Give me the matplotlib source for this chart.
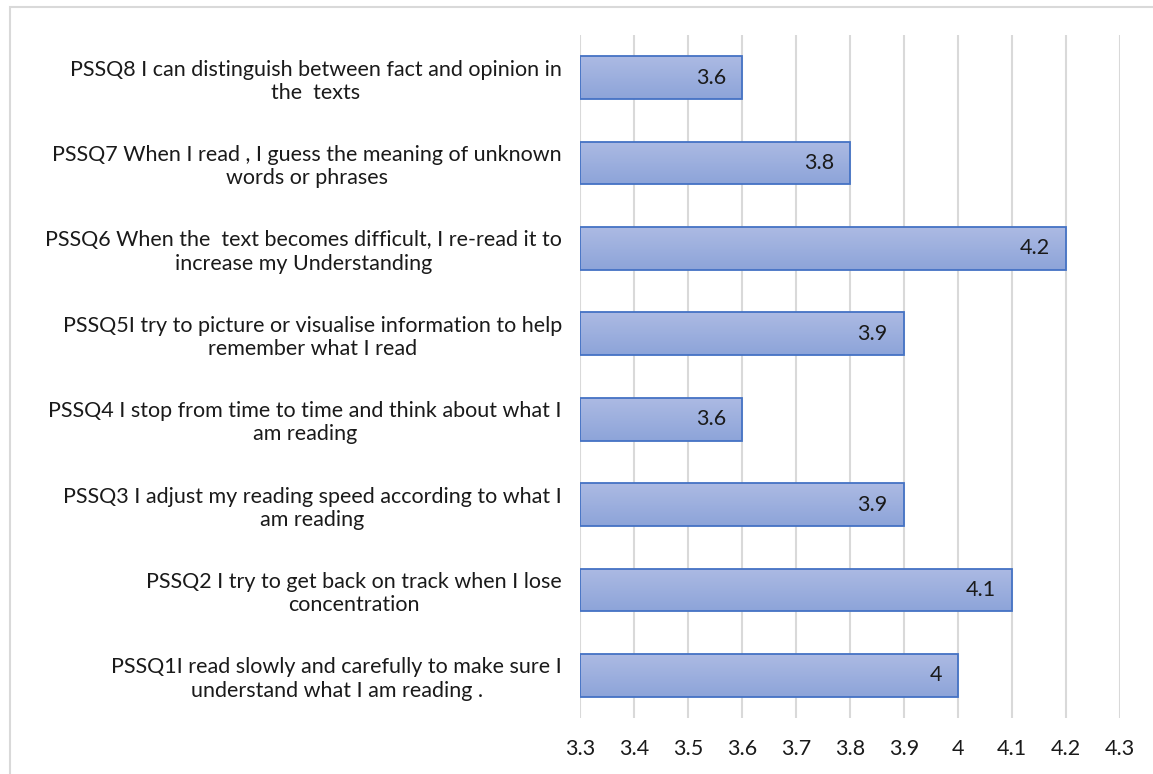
import numpy as np
import matplotlib
matplotlib.use('Agg')
import matplotlib.pyplot as plt
from matplotlib.patches import Rectangle
from matplotlib.colors import LinearSegmentedColormap

plt.rcParams['font.family'] = ['Lato', 'DejaVu Sans']

# ---- data (bottom to top) ----
questions = [
    "PSSQ1I read slowly and carefully to make sure I\nunderstand what I am reading .",
    "PSSQ2 I try to get back on track when I lose\nconcentration",
    "PSSQ3 I adjust my reading speed according to what I\nam reading",
    "PSSQ4 I stop from time to time and think about what I\nam reading",
    "PSSQ5I try to picture or visualise information to help\nremember what I read",
    "PSSQ6 When the  text becomes difficult, I re-read it to\nincrease my Understanding",
    "PSSQ7 When I read , I guess the meaning of unknown\nwords or phrases",
    "PSSQ8 I can distinguish between fact and opinion in\nthe  texts",
]
means = [4, 4.1, 3.9, 3.6, 3.9, 4.2, 3.8, 3.6]
x_ticks = [3.3, 3.4, 3.5, 3.6, 3.7, 3.8, 3.9, 4.0, 4.1, 4.2, 4.3]
x_tick_labels = ["3.3", "3.4", "3.5", "3.6", "3.7", "3.8", "3.9", "4", "4.1", "4.2", "4.3"]
base = 3.3

fig = plt.figure(figsize=(11.53, 7.74), dpi=100)
ax = fig.add_axes([580 / 1153, 1 - 718 / 774, (1120 - 580) / 1153, (718 - 35) / 774])

# chart border (cut by the image edges)
fig.patches.append(Rectangle((9.5 / 1153, -0.1), 1.2, 1.1 - 6.5 / 774,
                             transform=fig.transFigure, fill=False,
                             edgecolor='#d9d9d9', linewidth=1.5, zorder=0))

ypos = np.arange(len(means))
bars = ax.barh(ypos, [m - base for m in means], left=base, height=0.5,
               color='none', edgecolor='#4472c4', linewidth=1.3, zorder=3)

cmap = LinearSegmentedColormap.from_list('bar', ['#8da4d9', '#acbae3'])
grad = np.linspace(0, 1, 64).reshape(-1, 1)
for b, y, m in zip(bars, ypos, means):
    im = ax.imshow(grad, cmap=cmap, aspect='auto', origin='lower',
                   extent=[base, m, y - 0.25, y + 0.25], zorder=2)
    im.set_clip_path(b)
    ax.text(m - 0.03, y, f"{m:g}", ha='right', va='center', fontsize=15.5,
            color='#1a1a1a', zorder=4)

ax.set_xlim(3.3, 4.3)
ax.set_ylim(-0.5, len(means) - 0.5)
ax.set_xticks(x_ticks)
ax.set_xticklabels(x_tick_labels, fontsize=15.5, color='#1a1a1a')
ax.set_yticks(ypos)
ax.set_yticklabels(questions, fontsize=15.5, color='#1a1a1a', multialignment='center')
ax.tick_params(axis='both', length=0)
ax.tick_params(axis='x', pad=15)
ax.tick_params(axis='y', pad=13)
ax.grid(axis='x', color='#d9d9d9', linewidth=1.5, zorder=0)
ax.set_axisbelow(True)
for s in ax.spines.values():
    s.set_visible(False)

fig.savefig('out.png', dpi=100)
